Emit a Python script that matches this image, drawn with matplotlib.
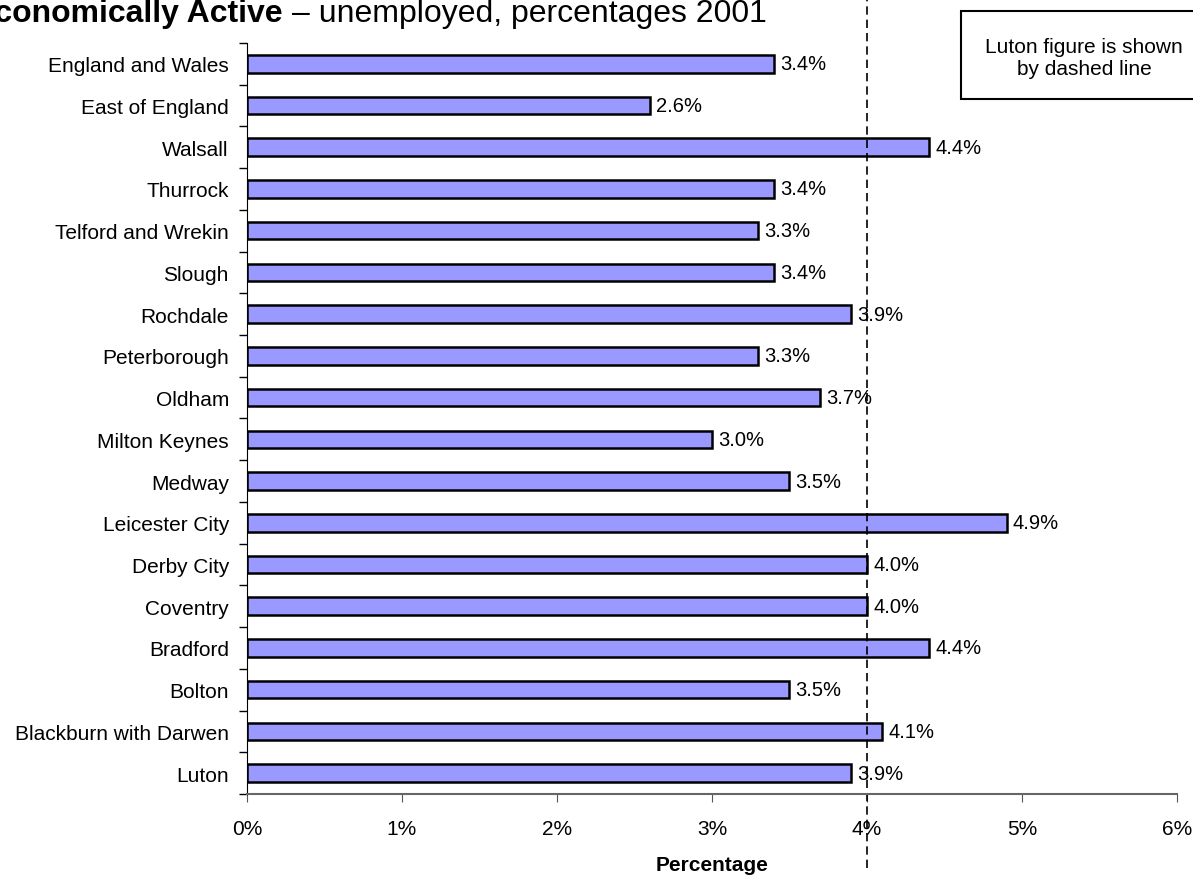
import matplotlib.pyplot as plt
from matplotlib.ticker import FuncFormatter
from matplotlib.patches import Rectangle

plt.rcParams['font.family'] = ['Liberation Sans', 'DejaVu Sans']

areas = ["England and Wales", "East of England", "Walsall", "Thurrock",
         "Telford and Wrekin", "Slough", "Rochdale", "Peterborough", "Oldham",
         "Milton Keynes", "Medway", "Leicester City", "Derby City", "Coventry",
         "Bradford", "Bolton", "Blackburn with Darwen", "Luton"]
values = [3.4, 2.6, 4.4, 3.4, 3.3, 3.4, 3.9, 3.3, 3.7, 3.0, 3.5, 4.9,
          4.0, 4.0, 4.4, 3.5, 4.1, 3.9]
luton_line = 4.0

fig = plt.figure(figsize=(11.93, 8.78), dpi=100)
ax = fig.add_axes([0.207, 0.0945, 0.7796, 0.8555])

ypos = list(range(len(areas)))[::-1]
ax.barh(ypos, values, height=0.42, color='#9999FF', edgecolor='black', linewidth=1.8)
for y, v in zip(ypos, values):
    ax.text(v + 0.04, y, f"{v:.1f}%", va='center', ha='left', fontsize=14.5)

ax.set_xlim(0, 6)
ax.set_ylim(-0.5, len(areas) - 0.5)
ax.set_xticks(range(7))
ax.xaxis.set_major_formatter(FuncFormatter(lambda x, p: f"{int(x)}%"))
ax.set_yticks(ypos)
ax.set_yticklabels(areas)
ax.set_yticks([i - 0.5 for i in range(len(areas) + 1)], minor=True)
ax.tick_params(axis='y', which='major', length=0, labelsize=15, pad=13)
ax.tick_params(axis='y', which='minor', length=6, width=1, color='black')
ax.tick_params(axis='x', length=6, labelsize=15, pad=12, color='#555555')
for s in ['top', 'right']:
    ax.spines[s].set_visible(False)
ax.spines['left'].set_color('black')
ax.spines['bottom'].set_color('#666666')
ax.spines['bottom'].set_linewidth(1.5)

ax.set_xlabel("Percentage", fontsize=15, fontweight='bold', labelpad=12)

# Luton dashed reference line, running past the axes
trans = ax.get_xaxis_transform()
ax.plot([luton_line, luton_line], [-0.098, 1.165], transform=trans, clip_on=False,
        color='black', linestyle=(0, (5, 3)), linewidth=1.2)

fig.text(283 / 1193, 0.975, "Economically Active", fontsize=23, fontweight='bold',
         va='baseline', ha='right')
fig.text(292 / 1193, 0.975, "– unemployed, percentages 2001", fontsize=23,
         va='baseline', ha='left')

fig.patches.append(Rectangle((961 / 1193, 0.886), 0.21, 0.1003, transform=fig.transFigure,
                             facecolor='white', edgecolor='black', linewidth=1.5))
fig.text(1084 / 1193, 0.933, "Luton figure is shown\nby dashed line", fontsize=15,
         ha='center', va='center', linespacing=1.2)

fig.savefig("out.png", dpi=100)
